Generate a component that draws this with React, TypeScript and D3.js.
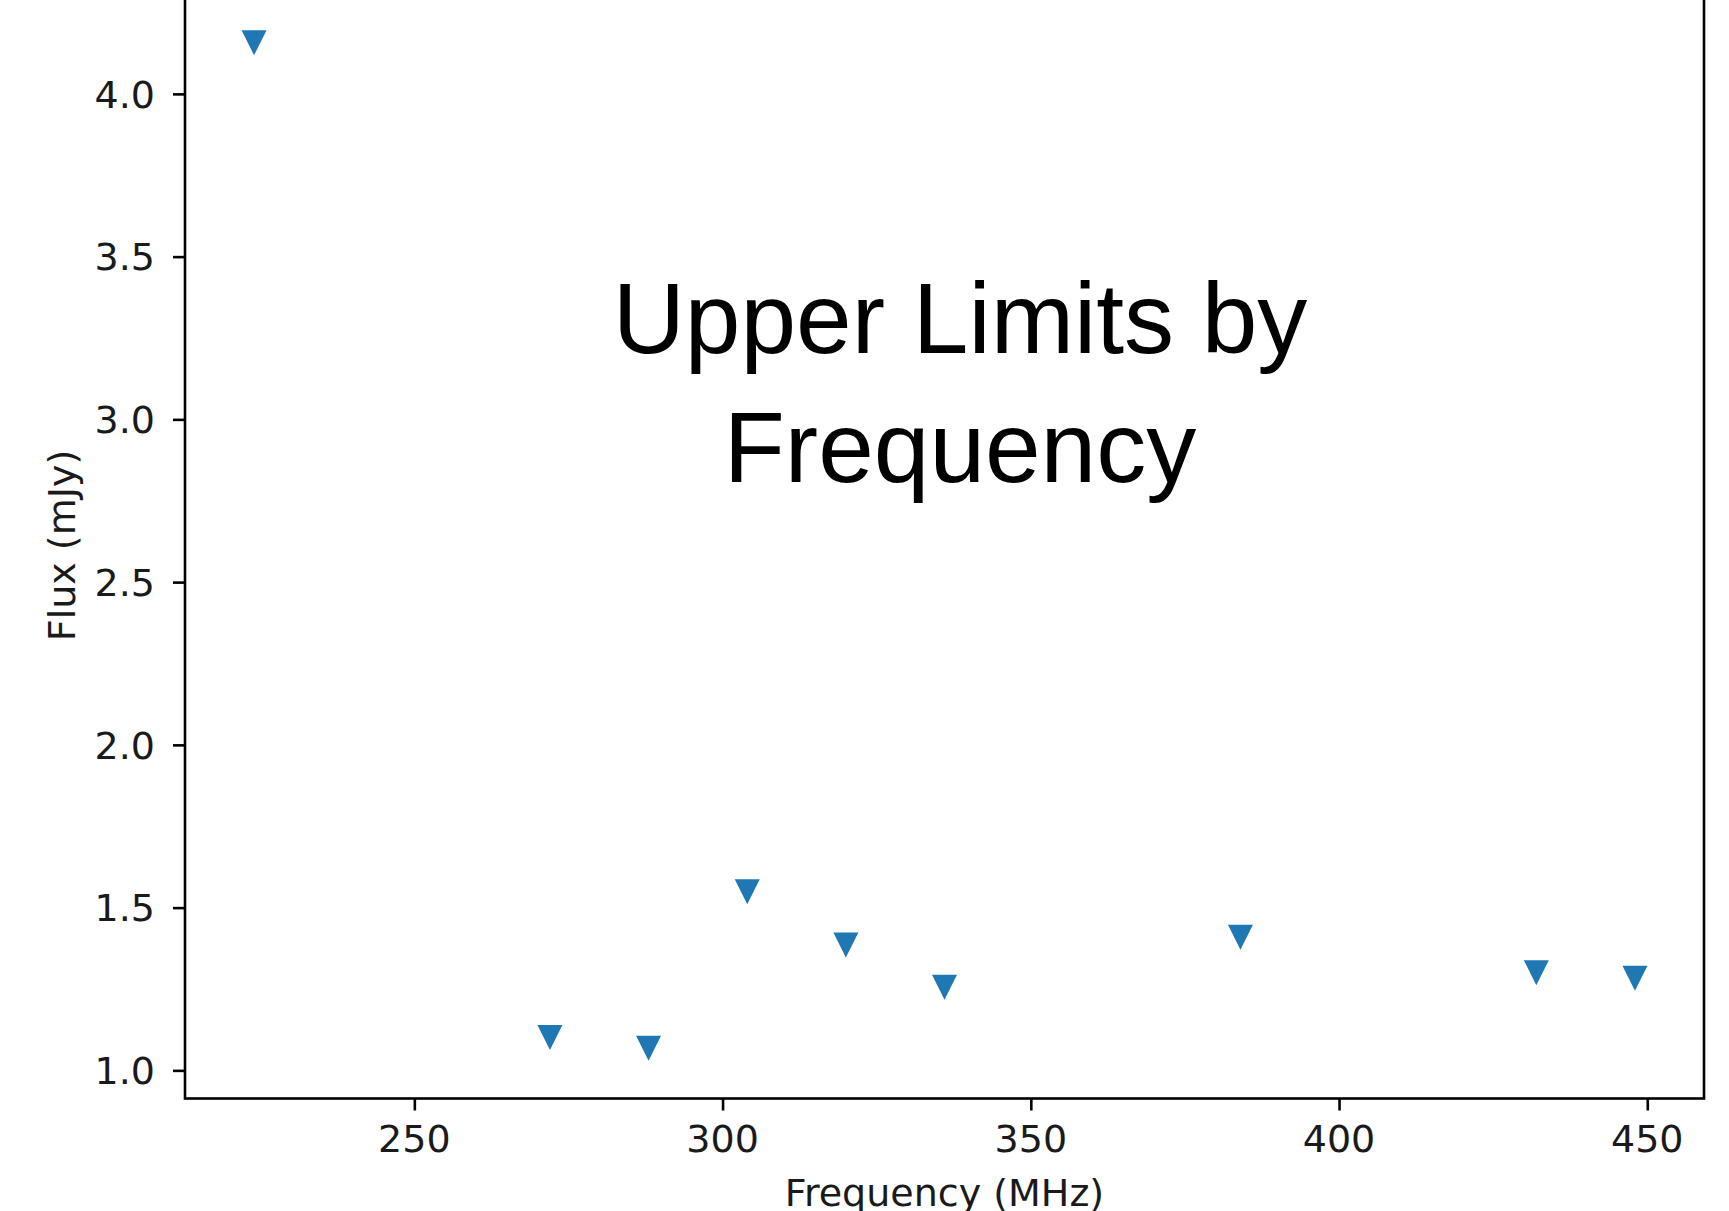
import React, { useRef, useEffect } from 'react';
import * as d3 from 'd3';

// upper limits
const frequencies = [224, 272, 288, 304, 320, 336, 384, 432, 448];
const fluxLimits = [4.157, 1.101, 1.068, 1.549, 1.385, 1.255, 1.409, 1.3, 1.283];
const xTicks = [250, 300, 350, 400, 450];
const yTicks = [1.0, 1.5, 2.0, 2.5, 3.0, 3.5, 4.0];
const titleLines = ['Upper Limits by', 'Frequency'];

const App = () => {
  const svgRef = useRef<SVGSVGElement | null>(null);

  const w = 1729;
  const h = 1211;
  const left = 185;
  const right = 1704;
  const bottom = 1098.5;
  const top = -7.5;

  useEffect(() => {
    const svg = d3.select(svgRef.current);
    svg.selectAll('*').remove();

    // matplotlib-style 5% margins around the data
    const [x0, x1] = d3.extent(frequencies) as [number, number];
    const [y0, y1] = d3.extent(fluxLimits) as [number, number];
    const xPad = (x1 - x0) * 0.05;
    const yPad = (y1 - y0) * 0.05;

    const xScale = d3.scaleLinear().domain([x0 - xPad, x1 + xPad]).range([left, right]);
    const yScale = d3.scaleLinear().domain([y0 - yPad, y1 + yPad]).range([bottom, top]);

    const font = 'DejaVu Sans, sans-serif';
    const fs = 38;
    const ink = '#1a1a1a';

    // x axis
    const xAxis = svg.append('g')
      .attr('transform', `translate(0,${bottom})`)
      .call(d3.axisBottom(xScale).tickValues(xTicks).tickFormat(() => '').tickSize(12));
    xAxis.select('.domain').remove();
    xAxis.selectAll('line').attr('stroke', '#000').attr('stroke-width', 2.6);

    svg.append('g')
      .selectAll('text')
      .data(xTicks)
      .enter()
      .append('text')
      .attr('x', d => xScale(d))
      .attr('y', 1152)
      .attr('text-anchor', 'middle')
      .attr('font-family', font)
      .attr('font-size', fs)
      .attr('fill', ink)
      .text(d => d3.format('d')(d));

    // y axis
    const yAxis = svg.append('g')
      .attr('transform', `translate(${left},0)`)
      .call(d3.axisLeft(yScale).tickValues(yTicks).tickFormat(() => '').tickSize(12));
    yAxis.select('.domain').remove();
    yAxis.selectAll('line').attr('stroke', '#000').attr('stroke-width', 2.6);

    svg.append('g')
      .selectAll('text')
      .data(yTicks)
      .enter()
      .append('text')
      .attr('x', 155)
      .attr('y', d => yScale(d))
      .attr('dy', '0.36em')
      .attr('text-anchor', 'end')
      .attr('font-family', font)
      .attr('font-size', fs)
      .attr('fill', ink)
      .text(d => d3.format('.1f')(d));

    // frame
    svg.append('rect')
      .attr('x', left)
      .attr('y', top)
      .attr('width', right - left)
      .attr('height', bottom - top)
      .attr('fill', 'none')
      .attr('stroke', '#000')
      .attr('stroke-width', 2.6);

    // triangle-down markers
    const s = 12.5;
    const tri = `M0,${s} L${-s},${-s} L${s},${-s} Z`;
    svg.append('g')
      .selectAll('path')
      .data(frequencies)
      .enter()
      .append('path')
      .attr('d', tri)
      .attr('transform', (d, i) => `translate(${xScale(d)},${yScale(fluxLimits[i])})`)
      .attr('fill', '#1f77b4');

    // axis labels
    svg.append('text')
      .attr('x', (left + right) / 2)
      .attr('y', 1206)
      .attr('text-anchor', 'middle')
      .attr('font-family', font)
      .attr('font-size', fs)
      .attr('fill', ink)
      .text('Frequency (MHz)');

    svg.append('text')
      .attr('transform', `translate(75,${(top + bottom) / 2}) rotate(-90)`)
      .attr('text-anchor', 'middle')
      .attr('font-family', font)
      .attr('font-size', fs)
      .attr('fill', ink)
      .text('Flux (mJy)');

    // big title inside the plot
    svg.append('g')
      .selectAll('text')
      .data(titleLines)
      .enter()
      .append('text')
      .attr('x', 960)
      .attr('y', (d, i) => 353 + i * 129)
      .attr('text-anchor', 'middle')
      .attr('font-family', 'Liberation Sans, Arial, sans-serif')
      .attr('font-size', 100)
      .attr('fill', '#000')
      .text(d => d);
  }, []);

  return (
    <svg
      ref={svgRef}
      width={w}
      height={h}
      style={{ position: 'absolute', left: 0, top: 0, background: '#fff' }}
    />
  );
};

export default App;
